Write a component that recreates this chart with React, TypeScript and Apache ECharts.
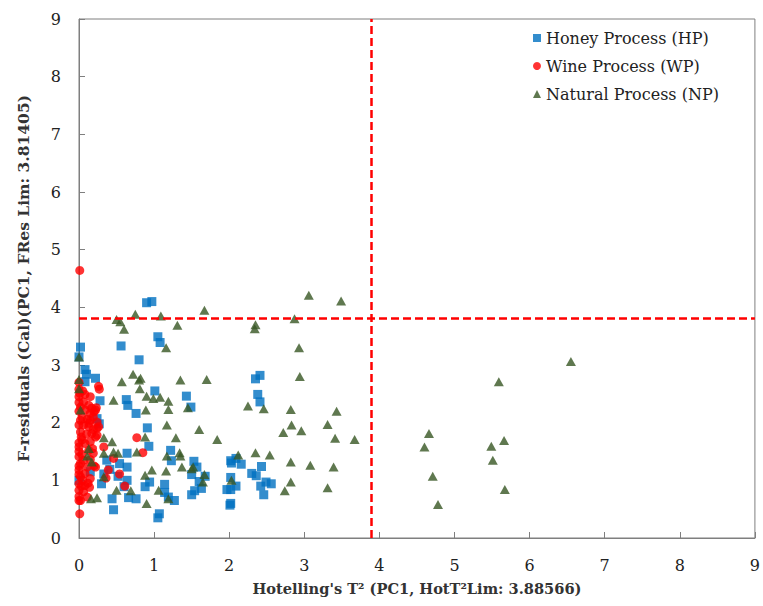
import React, { useEffect, useRef } from "react";
import * as echarts from "echarts";

const seriesNames = ["Honey Process (HP)", "Wine Process (WP)", "Natural Process (NP)"];
const xTicks = [0, 1, 2, 3, 4, 5, 6, 7, 8, 9];
const yTicks = [0, 1, 2, 3, 4, 5, 6, 7, 8, 9];
const hotT2Lim = 3.88566;
const fResLim = 3.81405;

const hpPoints: number[][] = [
  [0.02, 3.31], [0.0, 3.14], [0.08, 2.92], [0.1, 2.84], [0.22, 2.77], [0.08, 2.71], [0.56, 3.33], [0.8, 3.09],
  [0.28, 2.38], [0.63, 2.4], [0.65, 2.3], [0.76, 2.16], [0.24, 2.07], [0.27, 1.98], [0.91, 1.91], [0.93, 1.59],
  [0.9, 4.08], [0.97, 4.1], [1.05, 3.49], [1.08, 3.39], [1.01, 2.55], [1.43, 2.46], [1.49, 2.27], [2.35, 2.76],
  [2.41, 2.82], [2.38, 2.49], [2.41, 2.36], [1.22, 1.52], [1.23, 1.34], [1.53, 1.33], [1.57, 1.23], [1.5, 1.1],
  [1.68, 1.07], [1.14, 0.93], [1.14, 0.79], [1.19, 0.71], [1.27, 0.65], [1.07, 0.42], [1.05, 0.35], [2.02, 1.34],
  [2.03, 1.3], [2.09, 1.38], [2.16, 1.28], [2.43, 1.24], [2.3, 1.12], [2.36, 1.08], [2.02, 1.05], [1.97, 0.84],
  [2.02, 0.84], [2.09, 0.9], [2.02, 0.6], [2.01, 0.57], [2.42, 0.9], [2.49, 0.97], [2.56, 0.94], [2.46, 0.75],
  [0.64, 1.47], [0.37, 1.35], [0.54, 1.29], [0.64, 1.23], [0.64, 1.0], [0.3, 0.94], [0.88, 0.89], [0.94, 0.97],
  [0.44, 0.68], [0.46, 0.49], [0.76, 0.68], [0.66, 0.7], [0.15, 1.15], [0.33, 1.11], [0.52, 1.07], [0.0, 1.0],
  [0.6, 0.89], [0.41, 1.19], [1.5, 0.75], [1.54, 0.82], [1.6, 0.98], [1.63, 0.86],
];

const wpPoints: number[][] = [
  [0.01, 4.64], [0.77, 1.74], [0.85, 1.48], [0.33, 1.58], [0.39, 1.18], [0.46, 1.38], [0.54, 1.11], [0.61, 0.9],
  [0.36, 1.04], [0.01, 0.42], [0.22, 1.23], [0.26, 2.63], [0.27, 2.58], [0.0, 2.58], [0.01, 2.51], [0.08, 2.49],
  [0.15, 2.45], [0.0, 2.45], [0.06, 2.36], [0.13, 2.3], [0.17, 2.25], [0.02, 2.27], [0.08, 2.22], [0.22, 2.22],
  [0.15, 2.16], [0.04, 2.1], [0.11, 2.06], [0.19, 2.1], [0.24, 2.01], [0.06, 1.96], [0.13, 1.93], [0.02, 2.04],
  [0.15, 2.04], [0.0, 1.96], [0.13, 1.99], [0.24, 1.9], [0.02, 1.84], [0.17, 1.81], [0.22, 1.75], [0.04, 1.7],
  [0.08, 1.64], [0.15, 1.67], [0.0, 1.58], [0.13, 1.52], [0.19, 1.47], [0.0, 1.41], [0.06, 1.35], [0.15, 1.36],
  [0.02, 1.29], [0.11, 1.23], [0.0, 1.18], [0.08, 1.12], [0.02, 1.06], [0.15, 1.03], [0.0, 0.94], [0.08, 0.91],
  [0.0, 0.83], [0.06, 0.8], [0.02, 0.65], [0.11, 0.71], [0.0, 0.65], [0.23, 2.26], [0.2, 2.19], [0.26, 1.93],
  [0.19, 1.88], [0.24, 1.78], [0.0, 1.5], [0.04, 1.45], [0.0, 1.25], [0.03, 1.75], [0.0, 2.7], [0.05, 2.55],
  [0.0, 2.2], [0.1, 1.8], [0.12, 0.95], [0.2, 1.25], [0.18, 1.55], [0.0, 1.1], [0.05, 1.0], [0.0, 0.72],
  [0.03, 0.9], [0.0, 1.65], [0.0, 2.35], [0.14, 0.88],
];

const npPoints: number[][] = [
  [0.5, 3.79], [0.55, 3.75], [0.75, 3.88], [0.6, 3.62], [1.09, 3.85], [1.67, 3.95], [1.31, 3.69], [2.35, 3.7],
  [2.34, 3.63], [2.87, 3.8], [3.06, 4.21], [3.49, 4.11], [1.16, 3.3], [2.93, 3.3], [2.94, 2.8], [0.0, 3.14],
  [0.0, 2.75], [0.0, 2.59], [0.57, 2.71], [0.72, 2.84], [0.82, 2.77], [0.8, 2.74], [0.81, 2.59], [0.46, 2.39],
  [0.9, 2.46], [0.99, 2.42], [1.08, 2.44], [0.89, 2.22], [0.02, 2.22], [1.35, 2.74], [1.7, 2.75], [1.19, 2.37],
  [1.19, 2.23], [1.45, 2.26], [2.25, 2.29], [2.46, 2.24], [1.17, 1.96], [1.6, 1.88], [1.29, 1.74], [1.84, 1.71],
  [2.72, 1.83], [2.82, 2.23], [3.43, 2.2], [2.83, 1.96], [3.31, 1.97], [2.96, 1.86], [3.41, 1.73], [3.67, 1.71],
  [0.33, 1.74], [0.44, 1.67], [0.13, 1.55], [0.11, 1.42], [0.33, 1.47], [0.46, 1.49], [0.52, 1.47], [0.17, 1.32],
  [0.88, 1.75], [0.77, 1.49], [1.17, 1.42], [1.34, 1.48], [1.35, 1.42], [1.37, 1.23], [1.52, 1.23], [1.67, 1.1],
  [1.16, 1.16], [2.12, 1.44], [2.35, 1.48], [2.54, 1.44], [2.82, 1.32], [3.08, 1.26], [3.39, 1.23], [0.33, 1.06],
  [0.88, 1.09], [0.97, 1.18], [2.03, 1.0], [1.06, 0.83], [1.19, 0.68], [0.5, 0.83], [0.69, 0.82], [0.16, 0.68],
  [0.24, 0.7], [0.9, 0.6], [2.74, 0.82], [2.82, 0.97], [3.31, 0.87], [1.65, 0.97], [1.5, 1.2],
  [6.55, 3.06], [5.59, 2.71], [4.66, 1.81], [4.6, 1.58], [5.49, 1.59], [5.66, 1.69], [5.51, 1.35], [4.71, 1.07],
  [5.67, 0.84], [4.78, 0.58],
];

const FONT = "DejaVu Serif";

export default function App() {
  const ref = useRef<HTMLDivElement>(null);
  useEffect(() => {
    document.body.style.margin = "0";
    const chart = echarts.init(ref.current!, null, { renderer: "svg" });
    const axisCommon = {
      min: 0,
      max: 9,
      interval: 1,
      axisLine: { show: true, onZero: false, lineStyle: { color: "#7f7f7f", width: 1 } },
      axisTick: { show: true, inside: true, length: 6, lineStyle: { color: "#7f7f7f" } },
      splitLine: { show: false },
      nameLocation: "middle" as const,
    };
    chart.setOption({
      animation: false,
      backgroundColor: "#fff",
      grid: {
        left: 79,
        right: 4,
        top: 19,
        bottom: 68,
        show: true,
        borderColor: "#7f7f7f",
        borderWidth: 1,
      },
      legend: {
        orient: "vertical",
        left: 528,
        top: 25,
        itemWidth: 8,
        itemHeight: 8,
        itemGap: 12,
        textStyle: { fontFamily: FONT, fontSize: 16, color: "#222" },
        data: [
          { name: seriesNames[0], icon: "rect" },
          { name: seriesNames[1], icon: "circle" },
          { name: seriesNames[2], icon: "triangle" },
        ],
      },
      xAxis: {
        ...axisCommon,
        type: "value",
        name: "Hotelling's T² (PC1, HotT²Lim: 3.88566)",
        nameGap: 43,
        nameTextStyle: { fontFamily: FONT, fontSize: 14.6, fontWeight: "bold", color: "#333" },
        axisLabel: {
          margin: 19,
          fontFamily: FONT,
          fontSize: 16,
          color: "#222",
          formatter: (v: number) => (xTicks.includes(v) ? String(v) : ""),
        },
      },
      yAxis: {
        ...axisCommon,
        type: "value",
        name: "F-residuals (Cal)(PC1, FRes Lim: 3.81405)",
        nameGap: 48,
        nameRotate: 90,
        nameTextStyle: { fontFamily: FONT, fontSize: 15.5, fontWeight: "bold", color: "#333" },
        axisLabel: {
          margin: 18,
          fontFamily: FONT,
          fontSize: 16,
          color: "#222",
          formatter: (v: number) => (yTicks.includes(v) ? String(v) : ""),
        },
      },
      series: [
        {
          name: seriesNames[0],
          type: "scatter",
          symbol: "rect",
          symbolSize: 9,
          itemStyle: { color: "#0070C0" },
          data: hpPoints,
          z: 2,
        },
        {
          name: seriesNames[1],
          type: "scatter",
          symbol: "circle",
          symbolSize: 9,
          itemStyle: { color: "#FF0000" },
          data: wpPoints,
          z: 3,
        },
        {
          name: seriesNames[2],
          type: "scatter",
          symbol: "triangle",
          symbolSize: [10, 9],
          itemStyle: { color: "#375623" },
          data: npPoints,
          z: 4,
          markLine: {
            silent: true,
            symbol: ["none", "none"],
            label: { show: false },
            lineStyle: { color: "#FF0000", width: 2.5, type: [8, 4] },
            data: [{ xAxis: hotT2Lim }, { yAxis: fResLim }],
          },
        },
      ],
    });
    return () => chart.dispose();
  }, []);
  return <div ref={ref} style={{ width: 763, height: 606 }} />;
}
